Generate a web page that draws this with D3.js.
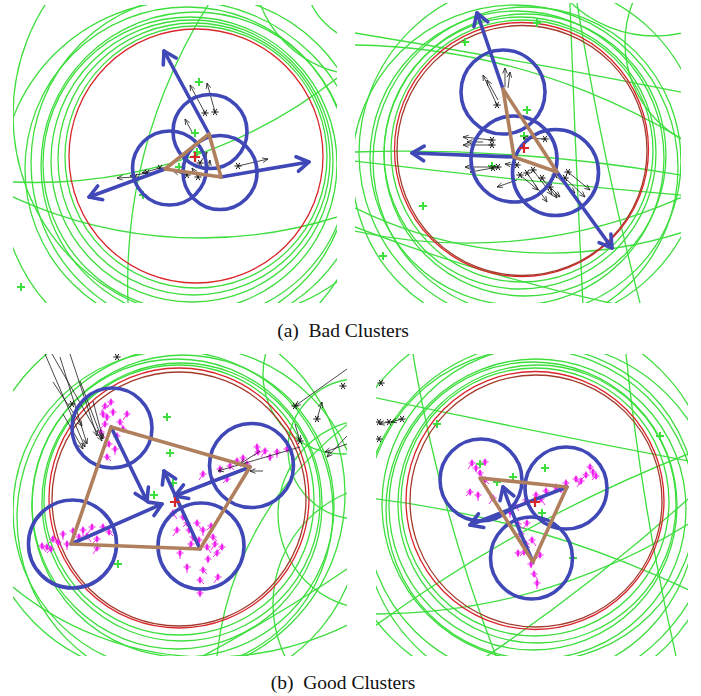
<!DOCTYPE html>
<html>
<head>
<meta charset="utf-8">
<script src="https://cdn.jsdelivr.net/npm/d3@7"></script>
<style>
  body { margin: 0; background: #fff; }
  text { font-family: "Liberation Serif", "DejaVu Serif", serif; white-space: pre; }
</style>
</head>
<body>
<svg id="fig" width="701" height="696"></svg>
<script>
// ===== (a) bad clusters, left view (local panel units) =====
const badL_rings = [[183,152,131],[181,154,136],[179,156,141],[177,159,147],[182,161,154],[174,164,162],[186,158,168],[170,178,182],[205,110,205],[350,-40,110],[360,-30,68]];
const badL_arcs = [[[0,177],[197,145],[324,73]], [[194,2],[134,138],[115,298]], [[0,192],[187,233],[324,212]]];
const badL_red = [[183,151,127]];
const badL_clusters = [[197,126.5,37],[156.5,163,37],[207,167.5,37]];
const badL_hull = [[196,129],[152,164],[208,172]];
const badL_moves = [[196,129,151,46],[152,164,76,192],[208,172,296,157]];
const badL_plus = [[186,77],[182,128],[166,162],[130,190],[8,282],[184,147]];
const badL_center = [182,152];
// [x1, y1, x2, y2, star at tail (1/0)]
const badL_quiver = [[192,108,177,80,1],[202,107,194,78,1],[179,127,172,114,0],[225,161,255,154,1],[147,163,129,168,1],[134,168,117,171,1],[122,172,104,173,1],[187,158,194,147,1],[185,172,179,163,1],[195,165,197,155,0],[174,170,160,166,1]];
const badL_magenta = [];

// ===== (a) bad clusters, right view =====
const badR_rings = [[167,148,131],[165,150,136],[170,152,141],[162,155,147],[172,158,154],[160,165,163],[176,150,172],[300,-90,123],[380,40,110]];
const badR_arcs = [[[0,30],[162,58],[325,89]], [[0,42],[150,62],[325,135]], [[0,149],[160,152],[325,172]], [[0,158],[160,176],[325,192]], [[215,0],[221,150],[228,300]], [[222,0],[250,150],[285,300]], [[0,224],[130,268],[255,300]], [[0,205],[200,250],[325,230]], [[0,228],[160,238],[325,195]]];
const badR_red = [[166.5,146.5,127],[167,147.5,125]];
const badR_clusters = [[148,89,42],[159,156,43],[200.5,169.5,43]];
const badR_hull = [[148,86],[159,154],[202,169]];
const badR_moves = [[148,86,122,10],[159,154,57,150],[202,169,257,245]];
const badR_plus = [[110,39],[182,20],[172,107],[169,133],[137,163],[68,203],[28,253]];
const badR_center = [169,145];
const badR_quiver = [[142,102,128,72,1],[143,97,132,77,0],[150,84,150,65,0],[153,85,155,69,0],[137,137,108,134,1],[137,142,108,142,1],[128,139,112,139,0],[190,136,168,135,1],[143,164,110,164,1],[138,165,115,169,1],[162,162,150,161,1],[213,169,235,187,1],[178,167,197,192,1],[187,175,202,195,1],[165,172,183,187,1],[210,175,230,194,1],[162,177,142,184,0],[172,170,192,199,1],[195,184,205,194,1],[200,172,220,190,1]];
const badR_magenta = [];

// ===== (b) good clusters, left view =====
const goodL_rings = [[166,146,135],[168,148,139],[164,150,145],[170,152,151],[160,157,160],[176,164,172],[150,140,182],[330,20,80],[345,95,70],[360,160,95],[380,250,120]];
const goodL_arcs = [[[204,302],[220,229],[277,126]], [[0,233],[104,289],[170,302]], [[190,302],[280,250],[334,215]]];
const goodL_red = [[166,144,130],[166,145,127]];
const goodL_clusters = [[99,74,40],[238.5,111.5,42],[59.5,190,44],[188,192,43]];
const goodL_hull = [[98,73],[237,113],[187,195],[58,190]];
const goodL_moves = [[98,73,134,147],[58,190,149,150],[237,113,162,142],[187,195,151,117]];
const goodL_plus = [[154,63],[157,99],[141,141],[160,129],[105,210]];
const goodL_center = [162,148];
const goodL_quiver = [[32,0,72,93,0],[39,0,89,87,0],[47,3,74,90,0],[40,28,69,72,0],[50,60,70,95,0],[67,27,89,85,0],[80,47,90,85,0],[57,0,84,82,0],[334,15,282,52,0],[304,65,309,48,0],[334,82,314,103,0],[334,90,312,98,0],[287,93,205,117,0],[250,117,237,117,0],[247,97,227,110,0],[282,70,287,87,0]];
const goodL_stars = [[59,50],[104,3],[282,52],[330,32],[287,87],[304,65]];
const goodL_magenta = [[92,52],[94,63],[107,68],[92,70],[104,82],[94,103],[114,60],[100,58],[88,78],[96,90],[102,95],[110,75],[98,48],[90,60],
  [29,192],[40,185],[50,180],[60,177],[79,173],[90,173],[74,182],[84,185],[54,190],[34,193],[84,194],[66,183],[45,188],[38,195],[70,176],[96,178],
  [190,120],[207,115],[224,107],[245,98],[264,98],[274,95],[234,110],[257,103],[200,127],[214,125],[244,93],[217,112],[252,97],[230,104],
  [160,159],[174,169],[190,176],[200,183],[164,176],[180,183],[194,193],[204,199],[174,213],[190,216],[205,223],[187,239],[184,169],[209,193],[167,199],[187,226],[178,190],[195,205],[170,163],[198,172],[186,186],[176,176],[202,190]];

// ===== (b) good clusters, right view =====
const goodR_rings = [[159,148,134],[161,150,139],[157,152,144],[160,155,150],[163,150,157],[155,160,165],[165,166,178],[150,150,190]];
const goodR_arcs = [[[1,44],[150,75],[307,106]], [[0,145],[150,175],[300,230]], [[111,302],[210,230],[311,146]], [[37,0],[70,150],[120,302]], [[312,100],[200,150],[60,230]], [[250,0],[270,150],[300,302]], [[0,260],[150,240],[312,170]]];
const goodR_red = [[159,146.5,129],[160,147,126]];
const goodR_clusters = [[105,126,41],[190,134,41],[155.5,204,41]];
const goodR_hull = [[104,124],[191,133],[157,208]];
const goodR_moves = [[191,133,137,154,94,171],[157,208,140,170,127,133]];
const goodR_plus = [[169,114],[284,82],[61,70],[197,204],[166,159],[121,128],[104,110],[137,123]];
const goodR_center = [159,148];
const goodR_quiver = [[13,68,3,70,0],[26,65,15,68,0]];
const goodR_stars = [[5,29],[3,68],[13,68],[26,65],[3,85]];
const goodR_magenta = [[96,109],[109,108],[104,119],[94,138],[102,141],[109,126],[117,144],[100,114],
  [139,151],[150,146],[160,141],[170,137],[180,133],[190,129],[200,125],[210,121],[217,118],[214,113],[205,127],[185,135],[165,145],[220,122],
  [134,158],[142,170],[151,169],[142,199],[156,186],[164,201],[161,229],[150,190],[145,180],[155,210],[158,220],[148,198]];

// ===== captions =====
const captions = ["(a)  Bad Clusters", "(b)  Good Clusters"];

// panel frames on the page
const panels = [
  {x0:13,  y0:5,   w:324, h:298, rings:badL_rings,  arcs:badL_arcs,  red:badL_red,  clusters:badL_clusters,  hull:badL_hull,  moves:badL_moves,  plus:badL_plus,  center:badL_center,  quiver:badL_quiver,  stars:[], magenta:badL_magenta},
  {x0:355, y0:3,   w:326, h:300, rings:badR_rings,  arcs:badR_arcs,  red:badR_red,  clusters:badR_clusters,  hull:badR_hull,  moves:badR_moves,  plus:badR_plus,  center:badR_center,  quiver:badR_quiver,  stars:[], magenta:badR_magenta},
  {x0:13,  y0:354, w:334, h:302, rings:goodL_rings, arcs:goodL_arcs, red:goodL_red, clusters:goodL_clusters, hull:goodL_hull, moves:goodL_moves, plus:goodL_plus, center:goodL_center, quiver:goodL_quiver, stars:goodL_stars, magenta:goodL_magenta},
  {x0:376, y0:354, w:312, h:302, rings:goodR_rings, arcs:goodR_arcs, red:goodR_red, clusters:goodR_clusters, hull:goodR_hull, moves:goodR_moves, plus:goodR_plus, center:goodR_center, quiver:goodR_quiver, stars:goodR_stars, magenta:goodR_magenta}
];

const C = {green:"#3ede3e", red:"#d8262c", darkRed:"#a33a2c", blue:"#3f48b6", brown:"#b0805e", magenta:"#f01ef0", black:"#1a1a1a"};

const svg = d3.select("#fig");
const defs = svg.append("defs");

function circumcircle([ax,ay],[bx,by],[cx,cy]) {
  const d = 2*(ax*(by-cy)+bx*(cy-ay)+cx*(ay-by));
  const a2 = ax*ax+ay*ay, b2 = bx*bx+by*by, c2 = cx*cx+cy*cy;
  const ux = (a2*(by-cy)+b2*(cy-ay)+c2*(ay-by))/d;
  const uy = (a2*(cx-bx)+b2*(ax-cx)+c2*(bx-ax))/d;
  return [ux, uy, Math.hypot(ax-ux, ay-uy)];
}

// open "V" arrow head at (tx,ty) pointing away from (fx,fy)
function headPath(fx, fy, tx, ty, len, ang) {
  const a = Math.atan2(ty-fy, tx-fx);
  const p1 = [tx - len*Math.cos(a-ang), ty - len*Math.sin(a-ang)];
  const p2 = [tx - len*Math.cos(a+ang), ty - len*Math.sin(a+ang)];
  return `M${p1[0]},${p1[1]}L${tx},${ty}L${p2[0]},${p2[1]}`;
}

// asterisk marker: horizontal bar plus two diagonals
function starPath(cx, cy, r) {
  let s = `M${cx-r},${cy}L${cx+r},${cy}`;
  [Math.PI/3, 2*Math.PI/3].forEach(a => {
    s += `M${cx-r*Math.cos(a)},${cy-r*Math.sin(a)}L${cx+r*Math.cos(a)},${cy+r*Math.sin(a)}`;
  });
  return s;
}

panels.forEach((p, i) => {
  const x = d3.scaleLinear().domain([0, p.w]).range([p.x0, p.x0 + p.w]);
  const y = d3.scaleLinear().domain([0, p.h]).range([p.y0, p.y0 + p.h]);
  const k = x(1) - x(0);

  defs.append("clipPath").attr("id", "clip" + i)
    .append("rect").attr("x", p.x0).attr("y", p.y0).attr("width", p.w).attr("height", p.h);
  const g = svg.append("g").attr("clip-path", `url(#clip${i})`);

  // candidate circles (green)
  const greens = p.rings.concat(p.arcs.map(t => circumcircle(...t)));
  g.append("g").selectAll("circle").data(greens).join("circle")
    .attr("cx", d => x(d[0])).attr("cy", d => y(d[1])).attr("r", d => d[2]*k)
    .attr("fill", "none").attr("stroke", C.green).attr("stroke-width", 1.3);

  // fitted boundary (red)
  g.append("g").selectAll("circle").data(p.red).join("circle")
    .attr("cx", d => x(d[0])).attr("cy", d => y(d[1])).attr("r", d => d[2]*k)
    .attr("fill", "none").attr("stroke", (d, j) => j ? C.darkRed : C.red).attr("stroke-width", 1.3);

  // green plus markers
  g.append("g").selectAll("path").data(p.plus).join("path")
    .attr("d", d => `M${x(d[0])-4},${y(d[1])}h8M${x(d[0])},${y(d[1])-4}v8`)
    .attr("stroke", C.green).attr("stroke-width", 2);

  // magenta member points with short displacement ticks
  const mg = g.append("g").attr("stroke", C.magenta);
  mg.selectAll("path.m").data(p.magenta).join("path").attr("class", "m")
    .attr("d", d => `M${x(d[0])-3.5},${y(d[1])}h7M${x(d[0])},${y(d[1])-3.5}v7` + starPath(x(d[0]), y(d[1]), 2.5))
    .attr("stroke-width", 1.2);
  mg.selectAll("line").data(p.magenta).join("line")
    .attr("x1", d => x(d[0])).attr("y1", d => y(d[1]))
    .attr("x2", (d, j) => x(d[0]) + (j % 3 - 1) * 4).attr("y2", (d, j) => y(d[1]) + 6 - (j % 2) * 2)
    .attr("stroke-width", 0.9);

  // black displacement arrows
  const qg = g.append("g").attr("stroke", C.black).attr("fill", "none").attr("stroke-width", 0.8);
  qg.selectAll("line").data(p.quiver).join("line")
    .attr("x1", d => x(d[0])).attr("y1", d => y(d[1])).attr("x2", d => x(d[2])).attr("y2", d => y(d[3]));
  qg.selectAll("path.h").data(p.quiver).join("path").attr("class", "h")
    .attr("d", d => headPath(x(d[0]), y(d[1]), x(d[2]), y(d[3]), 6, 0.4));
  const starPts = p.quiver.filter(d => d[4]).map(d => [d[0], d[1]]).concat(p.stars);
  qg.selectAll("path.s").data(starPts).join("path").attr("class", "s")
    .attr("d", d => starPath(x(d[0]), y(d[1]), 3.6)).attr("stroke-width", 1);

  // cluster discs (blue)
  g.append("g").selectAll("circle").data(p.clusters).join("circle")
    .attr("cx", d => x(d[0])).attr("cy", d => y(d[1])).attr("r", d => d[2]*k)
    .attr("fill", "none").attr("stroke", C.blue).attr("stroke-width", 3.6);

  // cluster movement arrows (blue)
  const ag = g.append("g").attr("stroke", C.blue).attr("fill", "none")
    .attr("stroke-width", 3.6).attr("stroke-linecap", "round").attr("stroke-linejoin", "round");
  p.moves.forEach(d => {
    let sx, sy, cx, cy, ex, ey;
    if (d.length === 6) { [sx, sy, cx, cy, ex, ey] = d; }
    else { [sx, sy, ex, ey] = d; cx = (sx + ex) / 2; cy = (sy + ey) / 2; }
    ag.append("path").attr("d", `M${x(sx)},${y(sy)}Q${x(cx)},${y(cy)} ${x(ex)},${y(ey)}`);
    ag.append("path").attr("d", headPath(x(cx), y(cy), x(ex), y(ey), 14, 0.55));
  });

  // cluster centre polygon (brown)
  g.append("path")
    .attr("d", d3.line().x(d => x(d[0])).y(d => y(d[1])).curve(d3.curveLinearClosed)(p.hull))
    .attr("fill", "none").attr("stroke", C.brown).attr("stroke-width", 3.6).attr("stroke-linejoin", "round");

  // overall centre (red plus)
  g.append("path")
    .attr("d", `M${x(p.center[0])-5},${y(p.center[1])}h10M${x(p.center[0])},${y(p.center[1])-5}v10`)
    .attr("stroke", C.red).attr("stroke-width", 2.2);
});

// sub-figure captions
svg.selectAll("text.cap").data(captions).join("text").attr("class", "cap")
  .attr("x", 343).attr("y", (d, i) => i ? 689 : 337)
  .attr("text-anchor", "middle").attr("font-size", 19.5).attr("fill", "#111")
  .text(d => d);
</script>
</body>
</html>
